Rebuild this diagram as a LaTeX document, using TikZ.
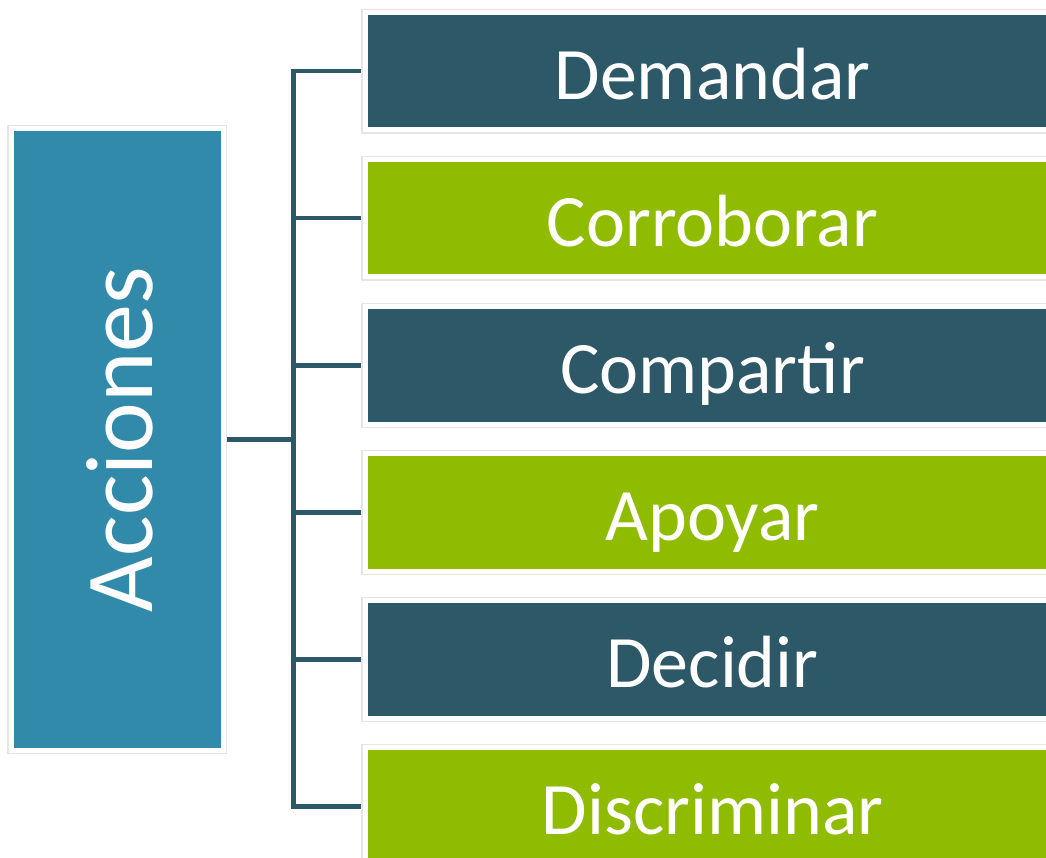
\documentclass[tikz,border=0pt]{standalone}
\usepackage{fontspec}
\setmainfont{Carlito}
\usetikzlibrary{backgrounds}
\definecolor{accblue}{HTML}{318AAA}
\definecolor{darkteal}{HTML}{2D5867}
\definecolor{limegreen}{HTML}{8FBC00}
\begin{document}
\begin{tikzpicture}[x=1pt, y=-1pt,
    framed/.style={preaction={draw=black!10, line width=7.5pt},
      draw=white, line width=5pt, text=white, inner sep=0pt},
    item/.style={framed, anchor=west, minimum width=695pt,
      minimum height=117.5pt, text height=57pt, text depth=0pt,
      font=\fontsize{74}{80}\selectfont},
    link/.style={draw=darkteal, line width=4.5pt}]
  \useasboundingbox (0,0) rectangle (1046,858);
  % left box
  \node [framed, fill=accblue, rotate=90, minimum width=621pt,
    minimum height=212.5pt, text height=70pt, text depth=0pt,
    font=\fontsize{96}{100}\selectfont] (acc) at (117.25,439.5) {Acciones};
  % right boxes
  \foreach \txt/\col [count=\i from 0] in {Demandar/darkteal,
      Corroborar/limegreen, Compartir/darkteal, Apoyar/limegreen,
      Decidir/darkteal, Discriminar/limegreen}
    \node [item, fill=\col] (b\i) at (362.5,{71.25+147*\i}) {\txt};
  % connectors
  \begin{scope}[on background layer]
    \coordinate (spine) at (293.5,439.5);
    \draw [link] (acc) -- (spine);
    \draw [link] (b0.west) -- (spine |- b0.west) -- (spine |- b5.west) -- (b5.west);
    \foreach \i in {1,...,4}
      \draw [link] (spine |- b\i.west) -- (b\i.west);
  \end{scope}
\end{tikzpicture}
\end{document}
